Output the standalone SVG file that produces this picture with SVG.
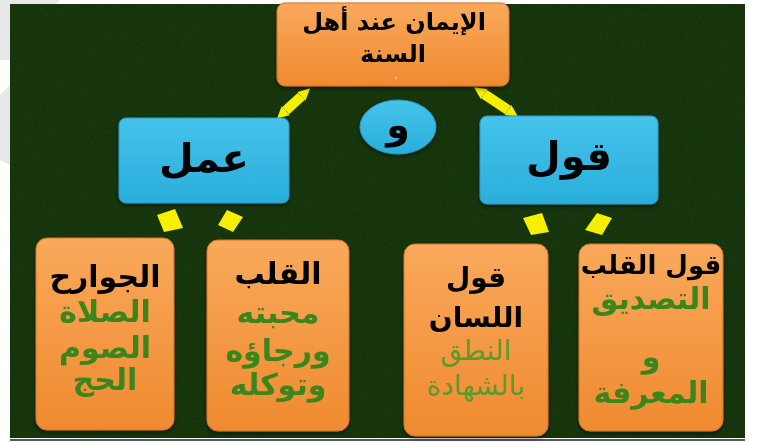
<svg xmlns="http://www.w3.org/2000/svg" width="764" height="442" viewBox="0 0 764 442">
<defs>
<style>
.t{font-family:"DejaVu Sans",sans-serif;font-weight:bold;text-anchor:middle;fill:#000}
.g{fill:#3b861c}
.gl{fill:#5b9a2e;font-weight:normal}
.ob{fill:url(#og);stroke:#d9741e;stroke-width:1}
.bb{fill:url(#bg);stroke:#2a9ac8;stroke-width:1}
.arr{stroke:#f6f000;stroke-width:10;fill:none;marker-start:url(#ah);marker-end:url(#ah)}
.dash{fill:#f6f000}
</style>
<linearGradient id="og" x1="0" y1="0" x2="0" y2="1">
<stop offset="0" stop-color="#f9a95c"/>
<stop offset="1" stop-color="#ef8a2f"/>
</linearGradient>
<linearGradient id="bg" x1="0" y1="0" x2="0" y2="1">
<stop offset="0" stop-color="#45c3ea"/>
<stop offset="1" stop-color="#2aaedc"/>
</linearGradient>
<filter id="tex" x="0" y="0" width="1" height="1">
<feTurbulence type="fractalNoise" baseFrequency="0.35" numOctaves="2" seed="3" result="n"/>
<feColorMatrix in="n" type="matrix" values="0 0 0 0 0  0 0 0 0 0  0 0 0 0 0  0 0 0 0.35 -0.05" result="d"/>
<feComposite in="d" in2="SourceGraphic" operator="in" result="dd"/>
<feMerge><feMergeNode in="SourceGraphic"/><feMergeNode in="dd"/></feMerge>
</filter>
<filter id="sh" x="-10%" y="-10%" width="120%" height="125%">
<feDropShadow dx="0" dy="2" stdDeviation="2" flood-color="#000" flood-opacity="0.5"/>
</filter>
<marker id="ah" viewBox="0 0 10 10" refX="0" refY="5" markerWidth="12" markerHeight="22" markerUnits="userSpaceOnUse" orient="auto-start-reverse">
<path d="M0,0 L10,5 L0,10 z" fill="#f6f000"/>
</marker>
</defs>
<rect width="764" height="442" fill="#fff"/>
<polygon points="0,0 60,0 10,45 10,60 0,60" fill="#e8e8e8"/>
<polygon points="0,95 10,85 10,165 0,160" fill="#e8e8e8"/>
<rect x="10" y="4" width="735" height="434" fill="#1b3b12" filter="url(#tex)"/>
<line x1="10" y1="440" x2="745" y2="440" stroke="#222" stroke-width="1.5"/>

<g id="connectors">
<line class="arr" x1="301.3" y1="96.3" x2="285.7" y2="110.7"/>
<line class="arr" x1="484" y1="94" x2="508" y2="110"/>
<polygon class="dash" points="157,215 175,209 183,228 164,232"/>
<polygon class="dash" points="218,225 227,210 243,217 233,232"/>
<polygon class="dash" points="523,218 542,213 549,232 531,235"/>
<polygon class="dash" points="585,230 597,213 612,218 602,235"/>
</g>

<g id="top" filter="url(#sh)">
<rect class="ob" x="277" y="3" width="232" height="83" rx="8"/>
<text class="t" x="394" y="30" font-size="24" direction="rtl">الإيمان عند أهل</text>
<text class="t" x="393" y="62" font-size="24" direction="rtl">السنة</text>
<circle cx="396" cy="78" r="1.5" fill="#c8b8a0"/>
</g>

<g id="amal" filter="url(#sh)">
<rect class="bb" x="119" y="118" width="170" height="85" rx="7"/>
<text class="t" x="204" y="172" font-size="40" direction="rtl">عمل</text>
</g>

<g id="qawl" filter="url(#sh)">
<rect class="bb" x="480" y="116" width="178" height="88" rx="7"/>
<text class="t" x="569" y="170" font-size="40" direction="rtl">قول</text>
</g>

<g id="waw" filter="url(#sh)">
<ellipse cx="398" cy="127" rx="38" ry="27" fill="url(#bg)" stroke="#2a9ac8"/>
<text class="t" x="398" y="138" font-size="38" direction="rtl">و</text>
</g>

<g id="jawarih" filter="url(#sh)">
<rect class="ob" x="36" y="238" width="138" height="192" rx="11"/>
<text class="t" x="105" y="287" font-size="30" direction="rtl">الجوارح</text>
<text class="t g" x="105" y="322" font-size="30" direction="rtl">الصلاة</text>
<text class="t g" x="105" y="358" font-size="30" direction="rtl">الصوم</text>
<text class="t g" x="105" y="390" font-size="30" direction="rtl">الحج</text>
</g>

<g id="qalb" filter="url(#sh)">
<rect class="ob" x="207" y="240" width="142" height="191" rx="11"/>
<text class="t" x="278" y="284" font-size="30" direction="rtl">القلب</text>
<text class="t g" x="278" y="323" font-size="30" direction="rtl">محبته</text>
<text class="t g" x="278" y="361" font-size="30" direction="rtl">ورجاؤه</text>
<text class="t g" x="278" y="395" font-size="30" direction="rtl">وتوكله</text>
</g>

<g id="lisan" filter="url(#sh)">
<rect class="ob" x="404" y="244" width="144" height="192" rx="11"/>
<text class="t" x="476" y="287" font-size="28" direction="rtl">قول</text>
<text class="t" x="476" y="327" font-size="28" direction="rtl">اللسان</text>
<text class="t gl" x="476" y="360" font-size="28" direction="rtl">النطق</text>
<text class="t gl" x="476" y="395" font-size="28" direction="rtl">بالشهادة</text>
</g>

<g id="qawlqalb" filter="url(#sh)">
<rect class="ob" x="579" y="244" width="144" height="187" rx="11"/>
<text class="t" x="651" y="274" font-size="26" direction="rtl">قول القلب</text>
<text class="t g" x="651" y="309" font-size="30" direction="rtl">التصديق</text>
<text class="t g" x="651" y="367" font-size="30" direction="rtl">و</text>
<text class="t g" x="651" y="403" font-size="30" direction="rtl">المعرفة</text>
</g>
</svg>
